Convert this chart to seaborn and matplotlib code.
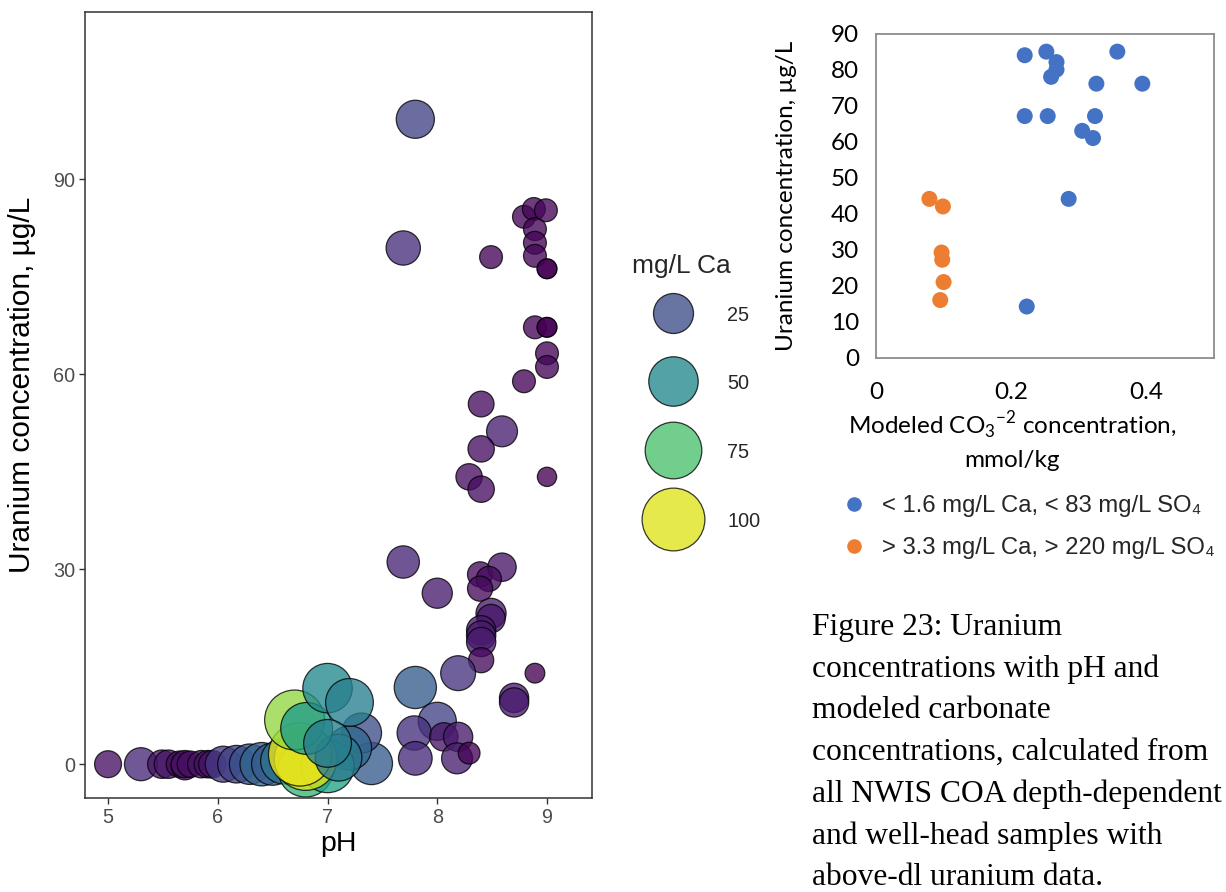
import numpy as np
import pandas as pd
import matplotlib
matplotlib.use("Agg")
import matplotlib.pyplot as plt
import seaborn as sns
from matplotlib.lines import Line2D
from matplotlib.colors import Normalize
from matplotlib.transforms import ScaledTranslation

# ---------------- Left panel data: pH vs uranium, sized/coloured by Ca ----------------
ph = [7.80, 7.69, 8.49, 8.79, 8.88, 8.99, 8.89, 8.89, 8.89, 9.00, 9.00,
      8.89, 9.00, 9.00, 9.00, 9.00, 8.79, 8.40, 8.59, 8.40, 8.29, 9.00, 8.40,
      7.69, 8.00, 8.39, 8.59, 8.47, 8.39, 8.49, 8.49, 8.40, 8.40, 8.40, 8.40,
      8.19, 8.89, 8.70, 8.70, 7.80, 8.00, 7.79, 8.06, 8.19, 7.80, 8.18, 8.29,
      5.00, 5.30, 5.49, 5.55, 5.65, 5.70, 5.70, 5.75, 5.85, 5.91, 5.95, 6.05,
      6.17, 6.29, 6.40, 6.50, 6.60,
      7.40, 7.31, 7.20, 6.80, 7.00, 6.80, 6.75, 6.70, 7.10, 6.81, 7.00, 7.20, 7.00]
uranium = [99.2, 79.4, 78.0, 84.2, 85.4, 85.2, 82.3, 80.2, 78.2, 76.2, 76.2,
           67.2, 67.2, 67.2, 63.2, 61.1, 58.9, 55.4, 51.2, 48.5, 44.2, 44.2, 42.3,
           31.1, 26.3, 29.2, 30.3, 28.5, 27.0, 23.2, 22.4, 20.6, 19.8, 18.8, 16.0,
           14.0, 14.0, 10.2, 9.5, 11.8, 6.6, 4.8, 4.2, 4.2, 0.9, 0.9, 1.7,
           0.0, 0.0, 0.0, 0.0, 0.0, -0.3, 0.0, 0.0, 0.0, 0.0, 0.0, 0.0,
           0.0, 0.0, 0.0, 0.0, 0.5,
           0.1, 4.8, 2.5, -0.8, -0.3, 0.8, 1.5, 6.8, 1.0, 5.5, 11.7, 9.5, 3.2]
calcium = [21, 14, 1.5, 1.5, 1.5, 1.5, 1.5, 1.5, 1.5, 0.3, 0.3,
           1.5, 0.3, 0.3, 1.5, 1.5, 1.5, 3.5, 9, 4, 4, 0.2, 4,
           11, 8, 3, 6, 3, 3, 8, 6, 7, 7, 7, 3,
           15, 0.3, 7, 7, 30, 21, 14, 6, 7, 13, 9, 1,
           4.5, 12, 6, 6, 4, 5, 5, 4, 5, 5, 5, 17,
           20, 26, 33, 30, 40,
           30, 25, 35, 70, 62, 100, 102, 88, 42, 58, 50, 45, 45]

legend_breaks = [25, 50, 75, 100]

# ---------------- Right panel data: modeled carbonate vs uranium ----------------
co3_low = [0.220, 0.252, 0.267, 0.267, 0.259, 0.357, 0.326, 0.394, 0.220,
           0.254, 0.324, 0.305, 0.321, 0.285, 0.223]
u_low = [84.1, 85.1, 82.2, 80.1, 78.1, 85.1, 76.2, 76.2, 67.2,
         67.2, 67.2, 63.1, 61.1, 44.2, 14.3]
co3_high = [0.079, 0.099, 0.097, 0.098, 0.100, 0.095]
u_high = [44.2, 42.1, 29.3, 27.3, 21.1, 16.1]
group_labels = ["< 1.6 mg/L Ca, < 83 mg/L SO\u2084", "> 3.3 mg/L Ca, > 220 mg/L SO\u2084"]
group_colors = ["#4472C4", "#ED7D31"]

caption = ("Figure 23: Uranium\n"
           "concentrations with pH and\n"
           "modeled carbonate\n"
           "concentrations, calculated from\n"
           "all NWIS COA depth-dependent\n"
           "and well-head samples with\n"
           "above-dl uranium data.")

# ---------------- styling ----------------
sns.set_theme(style="white")
plt.rcParams["font.family"] = ["Liberation Sans", "DejaVu Sans"]

W, H = 1226, 892
fig = plt.figure(figsize=(W / 100, H / 100), dpi=100)
fig.patch.set_facecolor("white")


def fx(px):
    return px / W


def fy(py):
    return 1 - py / H


def diam_px(c):
    return 17.25 + 4.55 * np.sqrt(c)


def area_pt2(c):
    return (diam_px(c) * 0.72) ** 2


# ---------------- left panel ----------------
ax = fig.add_axes([fx(85), fy(798), fx(592) - fx(85), fy(12) - fy(798)])
df = pd.DataFrame({"pH": ph, "U": uranium, "Ca": calcium})
size_map = {c: area_pt2(c) for c in df["Ca"].unique()}
norm = Normalize(0, 105)
sns.scatterplot(data=df, x="pH", y="U", hue="Ca", size="Ca", sizes=size_map,
                palette="viridis", hue_norm=(0, 105), alpha=0.78,
                edgecolor="black", linewidth=0.9, legend=False, ax=ax)
ax.set_xlim(4.79, 9.41)
ax.set_ylim(-5.2, 115.7)
ax.set_xticks([5, 6, 7, 8, 9])
ax.set_yticks([0, 30, 60, 90])
ax.set_xlabel("pH", fontsize=20.5, color="black", labelpad=3)
ax.set_ylabel("Uranium concentration, \u00b5g/L", fontsize=21.5, color="black")
ax.yaxis.set_label_coords(-0.097, (798 - 385) / 786)
ax.tick_params(axis="both", which="both", length=4, width=1, color="#333333",
               labelsize=14.3, labelcolor="#4d4d4d", pad=3, bottom=True, left=True)
for sp in ax.spines.values():
    sp.set_color("#333333")
    sp.set_linewidth(1.1)

cmap = plt.get_cmap("viridis")
handles = [Line2D([], [], marker="o", linestyle="", markersize=diam_px(b) * 0.72,
                  markerfacecolor=cmap(norm(b)), markeredgecolor="black",
                  markeredgewidth=0.9, alpha=0.78) for b in legend_breaks]
leg = fig.legend(handles, [str(b) for b in legend_breaks], title="mg/L Ca",
                 loc="upper left", bbox_to_anchor=(fx(632), fy(254)),
                 frameon=False, fontsize=14.3, title_fontsize=19,
                 handlelength=4.1, handleheight=3.4, labelspacing=1.0,
                 handletextpad=0.7, borderpad=0, borderaxespad=0,
                 alignment="left")
# centre the key labels vertically on their circles
for t in leg.get_texts():
    t.set_transform(t.get_transform() + ScaledTranslation(0, 7 / 100, fig.dpi_scale_trans))

# ---------------- right panel ----------------
rfont = ["Lato", "DejaVu Sans"]
ax2 = fig.add_axes([fx(876), fy(358), fx(1214) - fx(876), fy(34) - fy(358)])
df2 = pd.DataFrame({
    "co3": co3_low + co3_high,
    "U": u_low + u_high,
    "grp": [group_labels[0]] * len(co3_low) + [group_labels[1]] * len(co3_high),
})
sns.scatterplot(data=df2, x="co3", y="U", hue="grp",
                palette=dict(zip(group_labels, group_colors)),
                s=(16 * 0.72) ** 2, edgecolor="none", legend=False, ax=ax2)
ax2.set_xlim(0, 0.5)
ax2.set_ylim(0, 90)
ax2.set_xticks([0, 0.2, 0.4])
ax2.set_xticklabels(["0", "0.2", "0.4"])
ax2.set_yticks(range(0, 91, 10))
ax2.tick_params(axis="x", length=0, labelsize=17.5, labelcolor="black", pad=17)
ax2.tick_params(axis="y", length=0, labelsize=17.5, labelcolor="black", pad=12)
for lab in ax2.get_xticklabels() + ax2.get_yticklabels():
    lab.set_family(rfont)
for sp in ax2.spines.values():
    sp.set_color("#8c8c8c")
    sp.set_linewidth(1.3)
ax2.set_ylabel("Uranium concentration, \u00b5g/L", fontsize=17.5, family=rfont,
               color="black")
ax2.yaxis.set_label_coords((797 - 876) / 338, 0.5)
ax2.set_xlabel("Modeled CO$_\\mathregular{3}$$^\\mathregular{-2}$ concentration,\nmmol/kg",
               fontsize=17.5, family=rfont, color="black", linespacing=1.45)
ax2.xaxis.set_label_coords((1012 - 876) / 338, -(410 - 358) / 324)
ax2.xaxis.label.set_verticalalignment("top")

h2 = [Line2D([], [], marker="o", linestyle="", markersize=10.5, markerfacecolor=c,
             markeredgecolor="none") for c in group_colors]
fig.legend(h2, group_labels, loc="upper left", bbox_to_anchor=(fx(840), fy(495)),
           frameon=False, fontsize=17.2, handlelength=1.2, handletextpad=0.55,
           labelspacing=0.85, borderpad=0, borderaxespad=0)

fig.text(fx(812), fy(613), caption, family=["Liberation Serif", "DejaVu Serif"],
         fontsize=22.7, va="top", ha="left", linespacing=1.56, color="black")

fig.savefig("out.png", dpi=100)
